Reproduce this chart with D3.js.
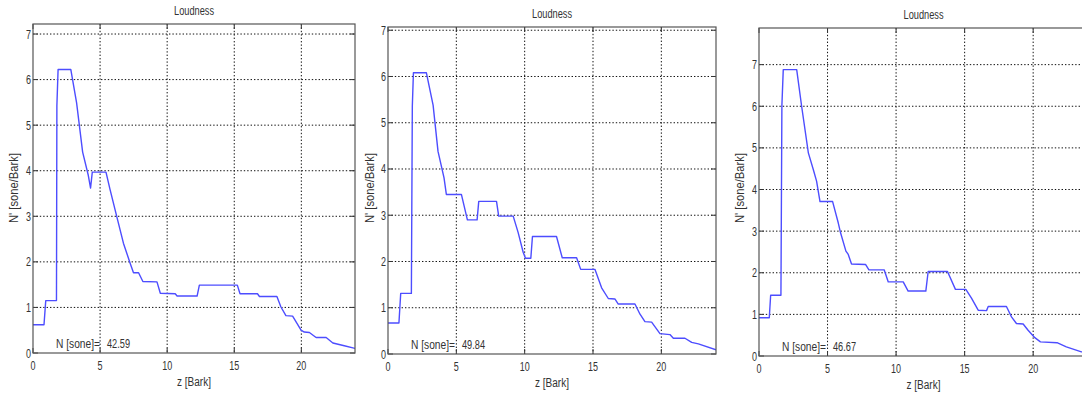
<!DOCTYPE html>
<html>
<head>
<meta charset="utf-8">
<script src="https://cdn.jsdelivr.net/npm/d3@7"></script>
<style>
  html, body { margin: 0; padding: 0; background: #fff; overflow: hidden; }
  svg { display: block; }
  text { font-family: "Liberation Sans", Arial, Helvetica, sans-serif; fill: #333; }
</style>
</head>
<body>
<svg id="chart"></svg>
<script>
// specific loudness per critical band, three recordings
const xTicks = [0, 5, 10, 15, 20]
const yTicks = [0, 1, 2, 3, 4, 5, 6, 7]
const titles = ['Loudness', 'Loudness', 'Loudness']
const totals = ['42.59', '49.84', '46.67']

const barkA = [0, 0.82, 0.95, 1.75, 1.78, 1.87, 2.82, 3.25, 3.7, 4.12, 4.29, 4.42, 5.44, 5.74, 6.24, 6.74, 7.24, 7.49, 7.87, 8.19, 9.24, 9.49, 10.6, 10.74, 12.23, 12.4, 15.23, 15.43, 16.73, 16.88, 18.18, 18.48, 18.85, 19.35, 19.98, 20.22, 20.6, 21.1, 21.85, 22.35, 23.2, 24]
const sonesA = [0.62, 0.62, 1.15, 1.15, 5.42, 6.22, 6.22, 5.49, 4.41, 3.9, 3.62, 3.97, 3.97, 3.59, 3.0, 2.41, 1.97, 1.76, 1.76, 1.57, 1.56, 1.31, 1.3, 1.25, 1.25, 1.49, 1.49, 1.3, 1.3, 1.24, 1.24, 1.01, 0.82, 0.81, 0.5, 0.46, 0.45, 0.34, 0.34, 0.22, 0.16, 0.1]

const barkB = [0, 0.8, 0.93, 1.71, 1.78, 1.86, 2.81, 3.3, 3.66, 4.1, 4.27, 5.37, 5.81, 6.52, 6.64, 7.94, 8.1, 9.16, 9.52, 9.89, 10.06, 10.45, 10.57, 12.33, 12.75, 13.8, 14.1, 15.14, 15.63, 16.12, 16.6, 16.85, 18.07, 18.44, 18.8, 19.29, 19.9, 20.63, 20.88, 21.73, 22.22, 22.71, 24]
const sonesB = [0.67, 0.67, 1.31, 1.31, 5.36, 6.08, 6.08, 5.38, 4.38, 3.81, 3.45, 3.45, 2.9, 2.9, 3.3, 3.3, 2.98, 2.98, 2.63, 2.2, 2.07, 2.07, 2.54, 2.54, 2.08, 2.08, 1.83, 1.83, 1.43, 1.2, 1.19, 1.08, 1.08, 0.86, 0.7, 0.69, 0.44, 0.42, 0.34, 0.34, 0.25, 0.22, 0.09]

const barkC = [0, 0.75, 0.85, 1.6, 1.67, 1.77, 2.75, 3.11, 3.6, 3.96, 4.2, 4.45, 5.37, 5.78, 5.95, 6.34, 6.51, 6.75, 7.77, 8.02, 9.13, 9.43, 10.52, 10.88, 12.17, 12.34, 13.75, 14.33, 15.09, 15.5, 15.99, 16.6, 16.72, 18.05, 18.42, 18.78, 19.27, 19.63, 20.12, 20.53, 21.74, 22.42, 23.52, 24]
const sonesC = [0.92, 0.92, 1.46, 1.46, 6.02, 6.88, 6.88, 6.0, 4.88, 4.48, 4.2, 3.71, 3.71, 3.2, 2.96, 2.52, 2.44, 2.21, 2.2, 2.07, 2.07, 1.78, 1.78, 1.56, 1.56, 2.03, 2.03, 1.6, 1.6, 1.39, 1.1, 1.09, 1.19, 1.19, 0.94, 0.78, 0.77, 0.62, 0.44, 0.34, 0.32, 0.22, 0.1, 0.08]

const yMaxes = [7.22, 7.07, 7.88]

const W = 1082
const H = 394
const svg = d3.select('#chart').attr('width', W).attr('height', H)

// plot boxes in pixels
const boxes = [
  { left: 33, right: 355, top: 24, bottom: 353, ylab: 14 },
  { left: 388, right: 716, top: 27, bottom: 354, ylab: 370 },
  { left: 759, right: 1088, top: 28, bottom: 356, ylab: 740 }
]
const series = [[barkA, sonesA], [barkB, sonesB], [barkC, sonesC]]

boxes.forEach((b, i) => {
  const x = d3.scaleLinear().domain([0, 24]).range([b.left, b.right])
  const y = d3.scaleLinear().domain([0, yMaxes[i]]).range([b.bottom, b.top])
  const g = svg.append('g')
  const tick = 5

  // grid
  g.selectAll('.gx').data(xTicks.filter((d) => d > 0))
    .join('line')
    .attr('x1', (d) => x(d)).attr('x2', (d) => x(d))
    .attr('y1', b.top).attr('y2', b.bottom)
    .attr('stroke', '#111').attr('stroke-width', 1).attr('stroke-dasharray', '1.4,2')
  g.selectAll('.gy').data(yTicks.filter((d) => d > 0))
    .join('line')
    .attr('x1', b.left).attr('x2', b.right)
    .attr('y1', (d) => y(d)).attr('y2', (d) => y(d))
    .attr('stroke', '#111').attr('stroke-width', 1).attr('stroke-dasharray', '1.4,2')

  // inner ticks on all four sides
  const tg = g.append('g').attr('stroke', '#333').attr('stroke-width', 1)
  xTicks.forEach((d) => {
    tg.append('line').attr('x1', x(d)).attr('x2', x(d)).attr('y1', b.bottom).attr('y2', b.bottom - tick)
    tg.append('line').attr('x1', x(d)).attr('x2', x(d)).attr('y1', b.top).attr('y2', b.top + tick)
  })
  yTicks.forEach((d) => {
    tg.append('line').attr('x1', b.left).attr('x2', b.left + tick).attr('y1', y(d)).attr('y2', y(d))
    tg.append('line').attr('x1', b.right).attr('x2', b.right - tick).attr('y1', y(d)).attr('y2', y(d))
  })

  // curve
  const clipId = 'clip' + i
  svg.append('clipPath').attr('id', clipId)
    .append('rect').attr('x', b.left).attr('y', b.top).attr('width', b.right - b.left).attr('height', b.bottom - b.top)
  const pts = series[i][0].map((z, k) => [z, series[i][1][k]])
  g.append('path')
    .datum(pts)
    .attr('clip-path', `url(#${clipId})`)
    .attr('fill', 'none')
    .attr('stroke', '#4d4dff')
    .attr('stroke-width', 1.4)
    .attr('stroke-linejoin', 'round')
    .attr('d', d3.line().x((d) => x(d[0])).y((d) => y(d[1])))

  // frame
  g.append('rect')
    .attr('x', b.left).attr('y', b.top)
    .attr('width', b.right - b.left).attr('height', b.bottom - b.top)
    .attr('fill', 'none').attr('stroke', '#555').attr('stroke-width', 1.2)

  // tick labels
  g.selectAll('.xl').data(xTicks)
    .join('text')
    .attr('x', (d) => x(d)).attr('y', b.bottom + 17)
    .attr('text-anchor', 'middle').attr('font-size', 12.5)
    .attr('textLength', (d) => (d < 10 ? 5 : 10)).attr('lengthAdjust', 'spacingAndGlyphs')
    .text((d) => d)
  g.selectAll('.yl').data(yTicks)
    .join('text')
    .attr('x', b.left - 2).attr('y', (d) => y(d) + 4.5)
    .attr('text-anchor', 'end').attr('font-size', 12.5)
    .attr('textLength', 5).attr('lengthAdjust', 'spacingAndGlyphs')
    .text((d) => d)

  // titles and labels
  g.append('text')
    .attr('x', (b.left + b.right) / 2).attr('y', b.top - 9)
    .attr('text-anchor', 'middle').attr('font-size', 12)
    .attr('textLength', 40).attr('lengthAdjust', 'spacingAndGlyphs')
    .text(titles[i])
  g.append('text')
    .attr('x', (b.left + b.right) / 2).attr('y', b.bottom + 33)
    .attr('text-anchor', 'middle').attr('font-size', 12.5)
    .attr('textLength', 34).attr('lengthAdjust', 'spacingAndGlyphs')
    .text('z [Bark]')
  g.append('text')
    .attr('transform', `translate(${b.ylab},${188}) rotate(-90)`)
    .attr('dy', '0.35em')
    .attr('text-anchor', 'middle').attr('font-size', 12.5)
    .attr('textLength', 70).attr('lengthAdjust', 'spacingAndGlyphs')
    .text("N' [sone/Bark]")

  // total loudness annotation
  g.append('text')
    .attr('x', b.left + 23).attr('y', b.bottom - 5)
    .attr('font-size', 12.5)
    .attr('textLength', 44).attr('lengthAdjust', 'spacingAndGlyphs')
    .text('N [sone]=')
  g.append('text')
    .attr('x', b.left + 74).attr('y', b.bottom - 5)
    .attr('font-size', 12.5)
    .attr('textLength', 23).attr('lengthAdjust', 'spacingAndGlyphs')
    .text(totals[i])
})
</script>
</body>
</html>
